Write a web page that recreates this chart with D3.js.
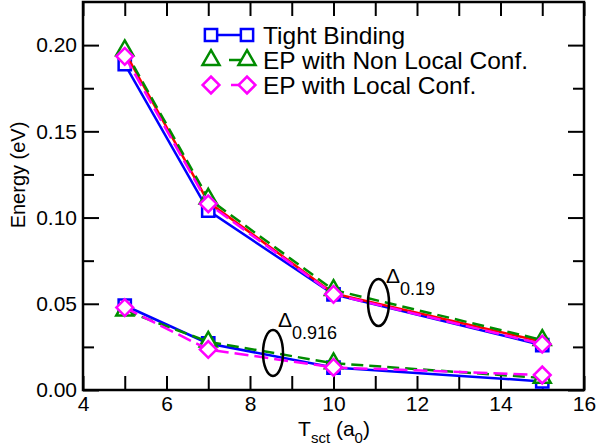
<!DOCTYPE html>
<html><head><meta charset="utf-8">
<script src="https://cdn.jsdelivr.net/npm/d3@7"></script>
<style>body{margin:0;background:#fff}svg{display:block}text{font-family:"Liberation Sans",Arial,Helvetica,sans-serif}</style>
</head><body>
<svg id="c" width="598" height="448"></svg>
<script>
const xVals = [5, 7, 10, 15];
const tbUpper = [0.189, 0.104, 0.0555, 0.026];
const tbLower = [0.049, 0.027, 0.013, 0.005];
const redUpper = [0.196, 0.109, 0.056, 0.028];
const nlUpper = [0.197, 0.111, 0.058, 0.029];
const nlLower = [0.046, 0.028, 0.0155, 0.007];
const lcUpper = [0.1935, 0.108, 0.0555, 0.0266];
const lcLower = [0.0478, 0.0235, 0.0131, 0.0087];
const xTicks = [4, 6, 8, 10, 12, 14, 16];
const xMinor = [5, 7, 9, 11, 13, 15];
const yTicks = [0, 0.05, 0.10, 0.15, 0.20];
const yMinor = [0.025, 0.075, 0.125, 0.175];
const legendLabels = ["Tight Binding", "EP with Non Local Conf.", "EP with Local Conf."];

const svg = d3.select("#c");
const L = 83, R = 584, T = 2, B = 390;
const x = d3.scaleLinear().domain([4, 16]).range([L, R]);
const y = d3.scaleLinear().domain([0, 0.225]).range([B, T]);

function ax(gen, tr, vals, size, labels) {
  const g = svg.append("g").attr("transform", tr)
    .call(gen.tickValues(vals).tickSizeInner(-size).tickSizeOuter(0).tickPadding(labels ? 6 : 0)
      .tickFormat(labels ? labels : () => ""));
  g.select(".domain").remove();
  g.selectAll(".tick line").attr("stroke", "#000").attr("stroke-width", 2);
  g.selectAll("text").attr("font-size", 21).attr("fill", "#000");
  return g;
}
ax(d3.axisBottom(x), `translate(0,${B})`, xTicks, 14, d3.format("d"));
ax(d3.axisBottom(x), `translate(0,${B})`, xMinor, 14, null);
ax(d3.axisTop(x), `translate(0,${T})`, xTicks.concat(xMinor), 14, null);
ax(d3.axisLeft(y), `translate(${L},0)`, yTicks, 16, d3.format(".2f"));
ax(d3.axisLeft(y), `translate(${L},0)`, yMinor, 11, null);
ax(d3.axisRight(y), `translate(${R},0)`, yTicks, 16, null);
ax(d3.axisRight(y), `translate(${R},0)`, yMinor, 11, null);

svg.append("rect").attr("x", L).attr("y", T).attr("width", R - L).attr("height", B - T)
  .attr("fill", "none").attr("stroke", "#000").attr("stroke-width", 2.5);

const line = d3.line().x(d => x(d[0])).y(d => y(d[1]));
const zip = vals => xVals.map((v, i) => [v, vals[i]]);

const sq = d3.symbol().type(d3.symbolSquare).size(150);
const tri = d3.symbol().type(d3.symbolTriangle).size(125);
const dia = d3.symbol().type(d3.symbolSquare).size(140);

function series(data, color, dash, marker, rot) {
  svg.append("path").attr("d", line(data)).attr("fill", "none").attr("stroke", color)
    .attr("stroke-width", 2.5).attr("stroke-dasharray", dash);
  if (marker) {
    svg.selectAll(null).data(data).enter().append("path")
      .attr("d", marker())
      .attr("transform", d => `translate(${x(d[0])},${y(d[1])}) rotate(${rot})`)
      .attr("fill", "#fff").attr("stroke", color).attr("stroke-width", 2.5);
  }
}
const blue = "#0000ff", red = "#ff0000", green = "#008c00", mag = "#ff00ff";
series(zip(tbUpper), blue, null, sq, 0);
series(zip(tbLower), blue, null, sq, 0);
series(zip(redUpper), red, null, null, 0);
series(zip(nlUpper), green, "12,6", tri, 0);
series(zip(nlLower), green, "12,6", tri, 0);
series(zip(lcUpper), mag, "14,6", dia, 45);
series(zip(lcLower), mag, "14,6", dia, 45);

// legend
const legColors = [blue, green, mag];
const legDash = [null, "0,18,12,30", "0,20,14,30"];
const legMk = [[sq, 0], [tri, 0], [dia, 45]];
legendLabels.forEach((t, i) => {
  const cy = 35 + i * 25;
  svg.append("line").attr("x1", 211).attr("x2", 247).attr("y1", cy).attr("y2", cy)
    .attr("stroke", legColors[i]).attr("stroke-width", 2.5).attr("stroke-dasharray", legDash[i]);
  [211, 247].forEach(cx => {
    svg.append("path").attr("d", legMk[i][0]()).attr("transform", `translate(${cx},${cy}) rotate(${legMk[i][1]})`)
      .attr("fill", "#fff").attr("stroke", legColors[i]).attr("stroke-width", 2.5);
  });
  svg.append("text").attr("x", 263).attr("y", cy + 8.5).attr("font-size", 24.5).text(t);
});

svg.append("ellipse").attr("cx", 273).attr("cy", 353).attr("rx", 10).attr("ry", 23)
  .attr("fill", "none").attr("stroke", "#000").attr("stroke-width", 2.5);
svg.append("ellipse").attr("cx", 378.5).attr("cy", 302.5).attr("rx", 10.5).attr("ry", 23.5)
  .attr("fill", "none").attr("stroke", "#000").attr("stroke-width", 2.5);
function delta(xp, yp, sub) {
  const t = svg.append("text").attr("x", xp).attr("y", yp).attr("font-size", 21);
  t.append("tspan").text("Δ");
  t.append("tspan").attr("dy", 12).attr("font-size", 18).text(sub);
}
delta(278, 327, "0.916");
delta(386, 283, "0.19");

const xt = svg.append("text").attr("x", 334).attr("y", 436).attr("text-anchor", "middle").attr("font-size", 21);
xt.append("tspan").text("T");
xt.append("tspan").attr("dy", 7).attr("font-size", 15).text("sct");
xt.append("tspan").attr("dy", -7).text(" (a");
xt.append("tspan").attr("dy", 7).attr("font-size", 15).text("0");
xt.append("tspan").attr("dy", -7).text(")");

svg.append("text").attr("transform", "translate(25,175) rotate(-90)").attr("text-anchor", "middle")
  .attr("font-size", 20).text("Energy (eV)");
</script>
</body></html>
